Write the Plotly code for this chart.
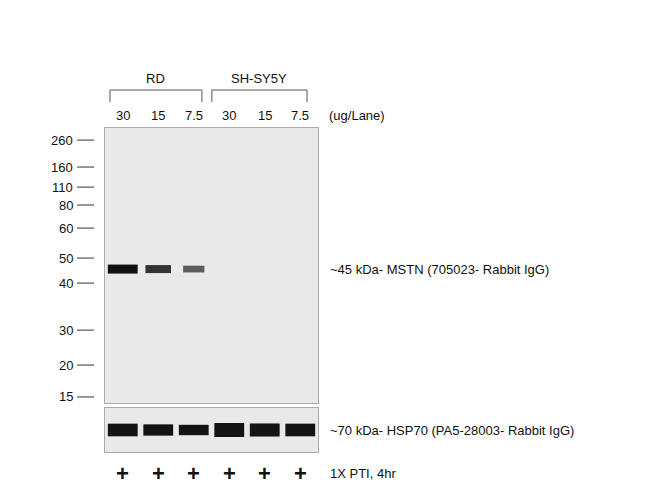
import plotly.graph_objects as go

W, H = 650, 504
OFF = 8
lanes = [1, 2, 3, 4, 5, 6]
lane_labels = ["30", "15", "7.5", "30", "15", "7.5"]
groups = ["RD", "SH-SY5Y"]
marker_kda = ["260", "160", "110", "80", "60", "50", "40", "30", "20", "15"]
marker_migration = [0.044, 0.142, 0.215, 0.280, 0.364, 0.473, 0.564, 0.735, 0.862, 0.978]
mstn_migration = 0.513
mstn_intensity = [1.0, 0.8, 0.55, 0.0, 0.0, 0.0]
hsp70_intensity = [0.85, 0.7, 0.6, 1.0, 0.9, 0.85]

fig = go.Figure()
font = dict(family="Liberation Sans, Arial", size=13, color="#111")

def band_color(v):
    g = int(190 - 175 * v)
    return f"rgb({g},{g},{g})"

for ln, v in zip(lanes, mstn_intensity):
    if v <= 0:
        continue
    half = 0.42 if v > 0.9 else (0.36 if v > 0.6 else 0.3)
    fig.add_trace(go.Scatter(x=[ln - half, ln + half], y=[mstn_migration] * 2, mode="lines",
                             line=dict(color=band_color(v), width=4 + 5 * v),
                             xaxis="x", yaxis="y", showlegend=False, hoverinfo="skip"))
for ln, v in zip(lanes, hsp70_intensity):
    fig.add_trace(go.Scatter(x=[ln - 0.42, ln + 0.42], y=[0.5, 0.5], mode="lines",
                             line=dict(color="rgb(20,20,20)", width=5 + 9 * v),
                             xaxis="x2", yaxis="y2", showlegend=False, hoverinfo="skip"))

def px(p):
    return (p - OFF) / W

def py(p):
    return 1 - (p - OFF) / H

ax = dict(range=[0.5, 6.5], showticklabels=False, showgrid=False, zeroline=False,
          showline=True, linecolor="#aaa", mirror=True, linewidth=1)
fig.update_layout(
    width=W, height=H, margin=dict(l=0, r=0, t=0, b=0),
    paper_bgcolor="white", plot_bgcolor="#e9e9e9",
    xaxis=dict(ax, domain=[px(105), px(318)]),
    yaxis=dict(ax, range=[1, 0], domain=[py(403), py(128)]),
    xaxis2=dict(ax, domain=[px(105), px(318)], anchor="y2"),
    yaxis2=dict(ax, range=[1, 0], domain=[py(452), py(408)], anchor="x2"),
)

ann = []
shapes = []
mid = dict(showarrow=False, yanchor="middle")
for ln, lab in zip(lanes, lane_labels):
    ann.append(dict(x=ln, y=py(115), xref="x", yref="paper", text=lab, font=font, xanchor="center", **mid))
    ann.append(dict(x=ln, y=py(473), xref="x", yref="paper", text="<b>+</b>", xanchor="center",
                    font=dict(family="Liberation Sans", size=22, color="#111"), **mid))
ann.append(dict(x=px(327), y=py(115), xref="paper", yref="paper", text="(ug/Lane)",
                xanchor="left", font=font, **mid))
for g, (a, b) in zip(groups, [(0.64, 3.23), (3.51, 6.19)]):
    ann.append(dict(x=(a + b) / 2, y=py(79), xref="x", yref="paper", text=g, font=font,
                    xanchor="center", **mid))
    shapes.append(dict(type="path", xref="x", yref="paper",
                       path=f"M {a},{py(102)} L {a},{py(90)} L {b},{py(90)} L {b},{py(102)}",
                       line=dict(color="#555", width=1)))
for k, m in zip(marker_kda, marker_migration):
    ann.append(dict(x=px(75), y=m, xref="paper", yref="y", text=k, xanchor="right", font=font, **mid))
    shapes.append(dict(type="line", xref="paper", yref="y", x0=px(77), x1=px(94), y0=m, y1=m,
                       line=dict(color="#555", width=1.2)))
ann.append(dict(x=px(328), y=mstn_migration, xref="paper", yref="y", xanchor="left",
                text="~45 kDa- MSTN (705023- Rabbit IgG)", font=font, **mid))
ann.append(dict(x=px(328), y=0.5, xref="paper", yref="y2", xanchor="left",
                text="~70 kDa- HSP70 (PA5-28003- Rabbit IgG)", font=font, **mid))
ann.append(dict(x=px(328), y=py(473), xref="paper", yref="paper", xanchor="left",
                text="1X PTI, 4hr", font=font, **mid))
fig.update_layout(annotations=ann, shapes=shapes)
fig.write_html("out.html")
